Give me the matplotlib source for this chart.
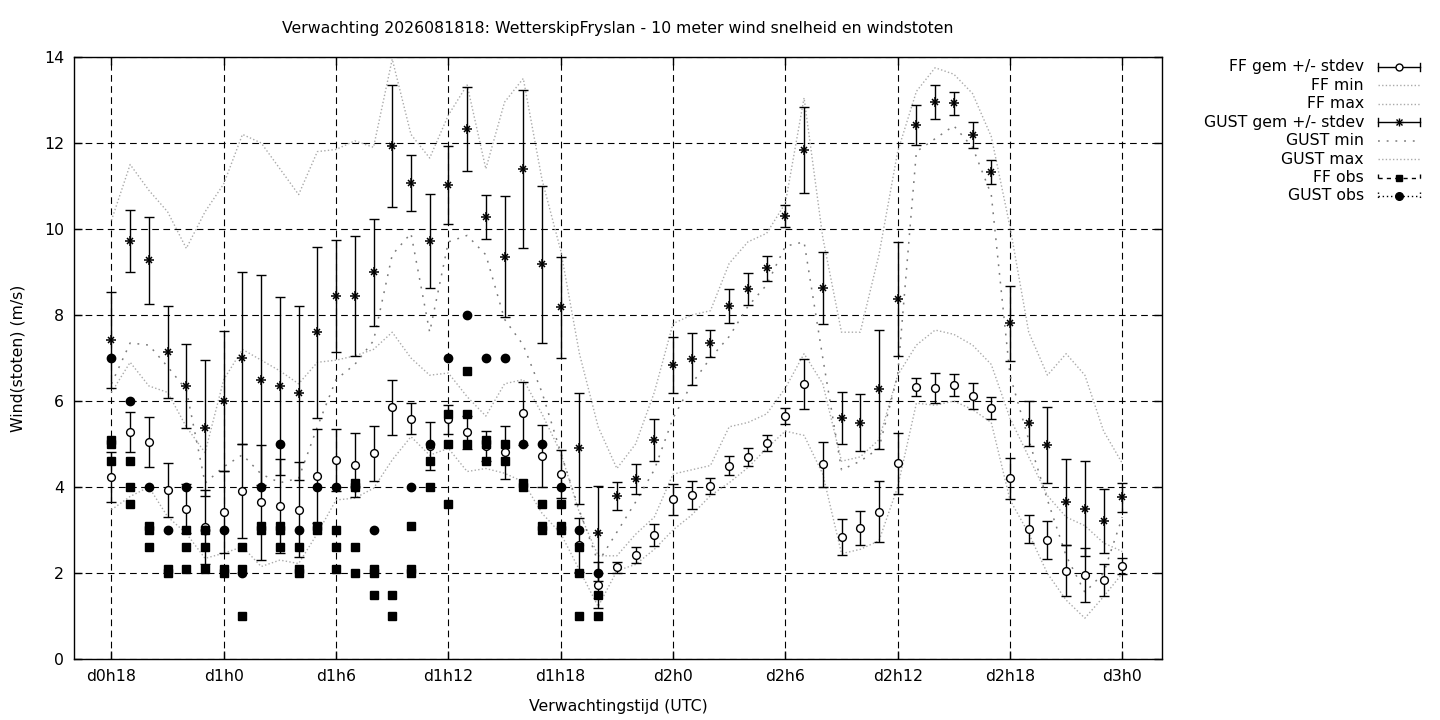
import matplotlib
matplotlib.use('Agg')
import matplotlib.pyplot as plt
from matplotlib.lines import Line2D

plt.rcParams['font.family'] = ['DejaVu Sans']

TITLE = "Verwachting 2026081818: WetterskipFryslan - 10 meter wind snelheid en windstoten"
XLABEL = "Verwachtingstijd (UTC)"
YLABEL = "Wind(stoten) (m/s)"

# forecast hours (hours since d0h0)
hours = list(range(18, 73))
tick_hours = [18, 24, 30, 36, 42, 48, 54, 60, 66, 72]
tick_labels = ['d0h18', 'd1h0', 'd1h6', 'd1h12', 'd1h18', 'd2h0', 'd2h6', 'd2h12', 'd2h18', 'd3h0']
y_ticks = [0, 2, 4, 6, 8, 10, 12, 14]

ff_mean = [4.23, 5.28, 5.05, 3.93, 3.50, 3.07, 3.42, 3.91, 3.64, 3.56,
           3.47, 4.26, 4.63, 4.51, 4.78, 5.85, 5.59, 4.96, 5.57, 5.27,
           4.95, 4.81, 5.71, 4.72, 4.30, 2.65, 1.72, 2.13, 2.42, 2.88,
           3.71, 3.81, 4.02, 4.49, 4.69, 5.02, 5.65, 6.40, 4.53, 2.83,
           3.04, 3.43, 4.55, 6.32, 6.30, 6.37, 6.12, 5.83, 4.20, 3.02,
           2.77, 2.05, 1.95, 1.84, 2.16]
ff_sd = [0.58, 0.47, 0.58, 0.63, 0.57, 0.87, 0.95, 1.10, 1.34, 1.10,
         1.10, 1.09, 0.72, 0.74, 0.64, 0.65, 0.36, 0.56, 0.33, 0.38,
         0.35, 0.62, 0.74, 0.73, 0.56, 0.62, 0.53, 0.12, 0.18, 0.25,
         0.35, 0.33, 0.18, 0.22, 0.21, 0.18, 0.19, 0.58, 0.52, 0.42,
         0.40, 0.72, 0.71, 0.21, 0.35, 0.26, 0.30, 0.26, 0.47, 0.33,
         0.45, 0.59, 0.62, 0.37, 0.18]
ff_min = [3.47, 3.78, 4.00, 3.31, 2.92, 2.34, 2.46, 2.61, 2.15, 2.30,
          2.22, 2.92, 3.70, 3.74, 3.97, 4.63, 5.17, 4.74, 4.90, 4.36,
          4.43, 4.32, 4.12, 3.39, 2.92, 2.07, 1.22, 2.05, 2.20, 2.55,
          3.00, 3.35, 3.80, 4.10, 4.45, 4.90, 5.30, 5.20, 4.30, 2.45,
          2.55, 2.75, 4.00, 5.95, 5.90, 6.00, 5.80, 5.50, 3.70, 2.92,
          1.99, 1.37, 0.95, 1.45, 1.99]
ff_max = [6.20, 6.90, 6.35, 6.20, 5.40, 4.80, 6.50, 7.20, 6.95, 6.70,
          6.40, 6.90, 6.95, 7.05, 7.20, 7.60, 7.00, 6.60, 6.65, 6.10,
          5.65, 6.40, 6.50, 5.70, 4.80, 3.40, 2.40, 2.40, 2.90, 3.30,
          4.30, 4.40, 4.50, 5.40, 5.50, 5.70, 6.30, 7.10, 6.40, 4.60,
          4.70, 5.10, 6.60, 7.30, 7.65, 7.55, 7.30, 6.85, 5.60, 4.70,
          3.80, 3.30, 3.10, 2.70, 2.50]

gust_mean = [7.42, 9.73, 9.27, 7.15, 6.35, 5.37, 6.00, 6.99, 6.49, 6.35,
             6.19, 7.60, 8.44, 8.44, 8.99, 11.94, 11.06, 9.72, 11.02, 12.32,
             10.27, 9.36, 11.39, 9.18, 8.18, 4.90, 2.92, 3.79, 4.19, 5.09,
             6.84, 6.97, 7.34, 8.21, 8.60, 9.09, 10.30, 11.84, 8.62, 5.60,
             5.50, 6.27, 8.37, 12.42, 12.95, 12.92, 12.19, 11.32, 7.81, 5.48,
             4.97, 3.64, 3.50, 3.21, 3.76]
gust_sd = [1.11, 0.72, 1.01, 1.07, 0.97, 1.58, 1.62, 2.00, 2.45, 2.06,
           2.03, 1.99, 1.31, 1.40, 1.25, 1.42, 0.65, 1.10, 0.90, 0.98,
           0.51, 1.41, 1.84, 1.82, 1.17, 1.29, 1.11, 0.32, 0.35, 0.49,
           0.66, 0.60, 0.31, 0.40, 0.37, 0.29, 0.25, 1.00, 0.84, 0.60,
           0.66, 1.38, 1.32, 0.47, 0.40, 0.26, 0.30, 0.28, 0.87, 0.53,
           0.88, 1.00, 1.11, 0.74, 0.33]
gust_min = [6.40, 7.35, 7.30, 6.80, 6.26, 4.09, 4.47, 4.75, 4.30, 4.10,
            4.20, 5.40, 6.50, 6.85, 7.40, 9.40, 9.90, 7.60, 9.70, 9.85,
            9.40, 7.90, 7.30, 6.20, 4.80, 3.45, 2.25, 2.95, 3.65, 4.40,
            5.60, 6.40, 7.00, 7.50, 8.20, 8.70, 9.60, 9.70, 7.00, 4.40,
            4.60, 4.90, 6.60, 11.80, 12.10, 12.40, 11.90, 10.80, 6.60, 5.10,
            3.70, 2.40, 1.55, 2.00, 3.30]
gust_max = [10.20, 11.50, 10.90, 10.40, 9.55, 10.40, 11.05, 12.20, 12.00, 11.40,
            10.80, 11.80, 11.85, 12.05, 11.90, 13.95, 12.20, 11.65, 12.65, 13.35,
            11.40, 12.95, 13.50, 11.15, 9.50, 7.10, 5.40, 4.43, 5.00, 6.20,
            7.80, 8.00, 8.10, 9.20, 9.70, 9.90, 10.60, 13.05, 9.80, 7.60,
            7.60, 9.40, 11.80, 13.20, 13.75, 13.60, 13.15, 12.15, 10.05, 7.60,
            6.60, 7.10, 6.60, 5.30, 4.55]

# observations (several per hour)
obs_hours = list(range(18, 45))
ff_obs = [[5.1, 5.0, 4.6], [4.6, 4.0, 3.6], [3.1, 3.0, 2.6], [2.1, 2.0],
          [3.0, 2.6, 2.1], [3.0, 2.6, 2.1], [2.1, 2.0], [2.6, 2.1, 1.0],
          [3.1, 3.0], [3.1, 3.0, 2.6], [2.6, 2.1, 2.0], [3.1, 3.0],
          [3.0, 2.6, 2.1], [4.1, 4.0, 2.6, 2.0], [2.1, 2.0, 1.5], [1.5, 1.0],
          [3.1, 2.1, 2.0], [4.6, 4.0], [5.7, 5.0, 3.6], [6.7, 5.7, 5.0],
          [5.1, 5.0, 4.6], [5.0, 4.6], [4.1, 4.0], [3.6, 3.1, 3.0],
          [3.6, 3.1, 3.0], [2.6, 2.0, 1.0], [1.5, 1.0]]
gust_obs = [[7.0], [6.0], [4.0], [3.0], [4.0], [3.0], [3.0], [2.0],
            [4.0], [5.0], [3.0], [4.0], [4.0], [4.0], [3.0], [],
            [4.0], [5.0], [7.0], [8.0], [7.0], [7.0], [5.0], [5.0],
            [4.0], [3.0], [2.0]]

LEGEND = ['FF gem +/- stdev', 'FF min', 'FF max', 'GUST gem +/- stdev',
          'GUST min', 'GUST max', 'FF obs', 'GUST obs']

FS = 11.3
W, H = 1440, 720
fig = plt.figure(figsize=(W / 100, H / 100), dpi=100)
ax = fig.add_axes([74 / W, 1 - 659 / H, 1088 / W, 602 / H])

LIGHT = '#aaaaaa'
DARK = '#7a7a7a'
light_ls = (0, (1, 1.6))
sparse_ls = (0, (1.2, 4.5))

# FF mean +/- stdev
ax.errorbar(hours, ff_mean, yerr=ff_sd, fmt='none', ecolor='black',
            elinewidth=1, capsize=3.6, capthick=1, zorder=3)
ax.plot(hours, ff_mean, 'o', ms=5.6, mfc='white', mec='black', mew=1, zorder=4)
# FF min / max
ax.plot(hours, ff_min, color=LIGHT, lw=1, ls=light_ls, zorder=2)
ax.plot(hours, ff_max, color=LIGHT, lw=1, ls=light_ls, zorder=2)
# GUST mean +/- stdev
ax.errorbar(hours, gust_mean, yerr=gust_sd, fmt='none', ecolor='black',
            elinewidth=1, capsize=3.6, capthick=1, zorder=3)
ax.plot(hours, gust_mean, '+', ms=6.8, color='black', mew=1.1, zorder=4)
ax.plot(hours, gust_mean, 'x', ms=5.0, color='black', mew=1.1, zorder=4)
# GUST min / max
ax.plot(hours, gust_min, color=DARK, lw=1.1, ls=sparse_ls, zorder=2)
ax.plot(hours, gust_max, color=LIGHT, lw=1, ls=light_ls, zorder=2)
# observations
fx, fy, gx, gy = [], [], [], []
for h, vals in zip(obs_hours, ff_obs):
    fx += [h] * len(vals)
    fy += vals
for h, vals in zip(obs_hours, gust_obs):
    gx += [h] * len(vals)
    gy += vals
ax.plot(fx, fy, 's', ms=5.2, color='black', zorder=5)
ax.plot(gx, gy, 'o', ms=6, color='black', zorder=6)

ax.set_xlim(16, 74.12)
ax.set_ylim(0, 14)
ax.set_xticks(tick_hours)
ax.set_xticklabels(tick_labels)
ax.set_yticks(y_ticks)
ax.grid(True, color='black', linestyle=(0, (6, 4)), linewidth=0.8)
ax.tick_params(direction='in', length=6, width=1, top=True, right=True,
               labelsize=FS, pad=7)
for s in ax.spines.values():
    s.set_linewidth(1)

fig.text(618 / W, 1 - 28 / H, TITLE, ha='center', va='center', fontsize=FS)
fig.text(618 / W, 1 - 706 / H, XLABEL, ha='center', va='center', fontsize=FS)
fig.text(18 / W, 1 - 358 / H, YLABEL, ha='center', va='center', rotation=90,
         fontsize=FS)

# legend (gnuplot style: right-aligned text, sample to the right)
rows = [66.5, 85, 103.5, 122, 140.5, 159, 177.5, 196]
x0, x1, xm = 1378, 1420, 1399


def fl(xs, ys, **kw):
    fig.add_artist(Line2D([x / W for x in xs], [1 - y / H for y in ys],
                          transform=fig.transFigure, **kw))


styles = [
    dict(kind='err', marker='o'),
    dict(kind='line', color=LIGHT, ls=light_ls, lw=1),
    dict(kind='line', color=LIGHT, ls=light_ls, lw=1),
    dict(kind='err', marker='*'),
    dict(kind='line', color=DARK, ls=sparse_ls, lw=1.1),
    dict(kind='line', color=LIGHT, ls=light_ls, lw=1),
    dict(kind='obs', ls=(0, (3, 3)), marker='s'),
    dict(kind='obs', ls=(0, (1, 2)), marker='o'),
]
for label, y, st in zip(LEGEND, rows, styles):
    fig.text(1364 / W, 1 - y / H, label, ha='right', va='center', fontsize=FS)
    if st['kind'] == 'line':
        fl([x0, x1], [y, y], color=st['color'], ls=st['ls'], lw=st['lw'])
    else:
        ls = '-' if st['kind'] == 'err' else st['ls']
        fl([x0, x1], [y, y], color='black', lw=1, ls=ls)
        fl([x0, x0], [y - 4, y + 4], color='black', lw=1, ls=ls)
        fl([x1, x1], [y - 4, y + 4], color='black', lw=1, ls=ls)
        if st['marker'] == 'o' and st['kind'] == 'err':
            fl([xm], [y], marker='o', ms=5, mfc='white', mec='black', mew=1, ls='none')
        elif st['marker'] == '*':
            fl([xm], [y], marker='+', ms=6, color='black', mew=1, ls='none')
            fl([xm], [y], marker='x', ms=4.5, color='black', mew=1, ls='none')
        elif st['marker'] == 's':
            fl([xm], [y], marker='s', ms=5, color='black', ls='none')
        else:
            fl([xm], [y], marker='o', ms=5.5, color='black', ls='none')

fig.savefig('out.png', dpi=100)
